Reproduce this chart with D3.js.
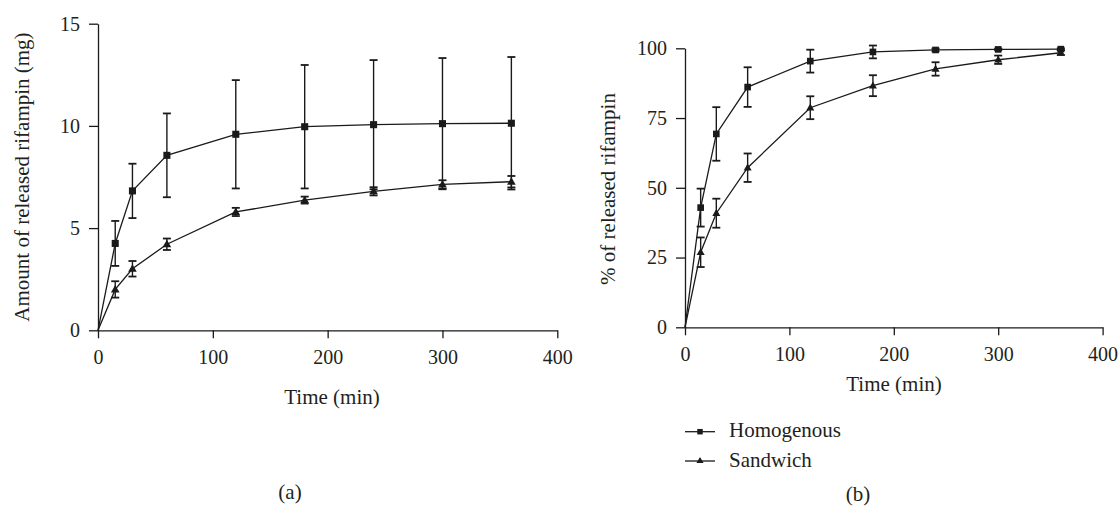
<!DOCTYPE html>
<html>
<head>
<meta charset="utf-8">
<script src="https://cdn.jsdelivr.net/npm/d3@7"></script>
<style>
  html, body { margin: 0; padding: 0; background: #fff; }
  svg { display: block; }
</style>
</head>
<body>
<svg id="chart" width="1119" height="506"></svg>
<script>
// ---- data ----
const times = [15, 30, 60, 120, 180, 240, 300, 360];
const startTime = 0, startValue = 0;

const homAmount   = [4.25, 6.82, 8.56, 9.59, 9.96, 10.06, 10.11, 10.13];
const homAmountSD = [1.10, 1.33, 2.05, 2.65, 3.02, 3.16, 3.21, 3.24];
const sanAmount   = [2.00, 3.01, 4.21, 5.79, 6.37, 6.80, 7.14, 7.27];
const sanAmountSD = [0.40, 0.38, 0.28, 0.20, 0.17, 0.20, 0.20, 0.28];

const homPercent   = [42.9, 69.3, 86.1, 95.4, 98.7, 99.4, 99.6, 99.7];
const homPercentSD = [6.8, 9.6, 7.1, 4.1, 2.3, 0.5, 0.3, 0.3];
const sanPercent   = [26.9, 40.9, 57.2, 78.7, 86.6, 92.6, 95.9, 98.4];
const sanPercentSD = [5.3, 5.2, 5.1, 4.1, 3.75, 2.4, 1.5, 0.8];

const xTicks = [0, 100, 200, 300, 400];
const yTicksA = [0, 5, 10, 15];
const yTicksB = [0, 25, 50, 75, 100];

const seriesNames = ["Homogenous", "Sandwich"];
const xTitle = "Time (min)";
const yTitleA = "Amount of released rifampin (mg)";
const yTitleB = "% of released rifampin";
const panelLabels = ["(a)", "(b)"];

// ---- drawing ----
const FONT = "'Liberation Serif', 'DejaVu Serif', 'Times New Roman', Times, serif";
const svg = d3.select("#chart");
const ink = "#1a1a1a";
const txt = "#231f20";

function label(sel, size) {
  return sel.attr("font-family", FONT).style("font-family", FONT)
    .attr("font-size", size).style("font-size", size + "px").attr("fill", txt);
}

function panel(cfg) {
  const x = d3.scaleLinear().domain([0, 400]).range([cfg.x0, cfg.x1]);
  const y = d3.scaleLinear().domain([0, cfg.yMax]).range([cfg.y0, cfg.y1]);
  const g = svg.append("g");

  const xa = g.append("g").attr("transform", `translate(0,${cfg.y0})`)
    .call(d3.axisBottom(x).tickValues(xTicks).tickSize(8).tickSizeOuter(0).tickPadding(12).tickFormat(d3.format("d")));
  const ya = g.append("g").attr("transform", `translate(${cfg.x0},0)`)
    .call(d3.axisLeft(y).tickValues(cfg.yTicks).tickSize(9).tickSizeOuter(0).tickPadding(9).tickFormat(d3.format("d")));
  [xa, ya].forEach(a => {
    a.attr("font-family", FONT);
    a.selectAll("path, line").attr("stroke", ink).attr("stroke-width", 1.3);
    label(a.selectAll("text"), 20);
  });

  label(g.append("text"), 21).attr("x", cfg.xTitleX).attr("y", cfg.xTitleY)
    .attr("text-anchor", "middle").text(xTitle);
  label(g.append("text"), 21).attr("transform", `translate(${cfg.yTitleX},${cfg.yTitleY}) rotate(-90)`)
    .attr("text-anchor", "middle").text(cfg.yTitle);
  label(g.append("text"), 21).attr("x", cfg.labelX).attr("y", cfg.labelY)
    .attr("text-anchor", "middle").text(cfg.label);

  const line = d3.line().x(d => x(d[0])).y(d => y(d[1]));
  cfg.series.forEach((s, si) => {
    const pts = [[startTime, startValue]].concat(times.map((t, i) => [t, s.vals[i], s.sd[i]]));
    const eg = g.append("g").attr("stroke", ink).attr("stroke-width", 1.4).attr("fill", "none");
    pts.slice(1).forEach(p => {
      const cx = x(p[0]), top = y(p[1] + p[2]), bot = y(p[1] - p[2]);
      eg.append("line").attr("x1", cx).attr("x2", cx).attr("y1", top).attr("y2", bot);
      eg.append("line").attr("x1", cx - 4).attr("x2", cx + 4).attr("y1", top).attr("y2", top).attr("stroke-width", 1.8);
      eg.append("line").attr("x1", cx - 4).attr("x2", cx + 4).attr("y1", bot).attr("y2", bot).attr("stroke-width", 1.8);
    });
    g.append("path").datum(pts).attr("d", line).attr("fill", "none")
      .attr("stroke", ink).attr("stroke-width", 1.3);
    const sym = si === 0 ? d3.symbolSquare : d3.symbolTriangle;
    const size = si === 0 ? cfg.sq : cfg.tri;
    g.selectAll(null).data(pts.slice(1)).join("path")
      .attr("transform", p => `translate(${x(p[0])},${y(p[1]) + (si === 1 ? 0.5 : 0)})`)
      .attr("d", d3.symbol(sym, size)).attr("fill", ink);
  });
}

panel({
  x0: 98, x1: 557.3, y0: 330.3, y1: 23.7, yMax: 15, yTicks: yTicksA,
  yTitle: yTitleA, yTitleX: 28.5, yTitleY: 177,
  xTitleX: 332, xTitleY: 404, label: panelLabels[0], labelX: 290, labelY: 499,
  sq: 50, tri: 32,
  series: [{vals: homAmount, sd: homAmountSD}, {vals: sanAmount, sd: sanAmountSD}]
});

panel({
  x0: 685, x1: 1102.6, y0: 327.3, y1: 48.3, yMax: 100, yTicks: yTicksB,
  yTitle: yTitleB, yTitleX: 615, yTitleY: 189,
  xTitleX: 894, xTitleY: 391, label: panelLabels[1], labelX: 858, labelY: 501,
  sq: 44, tri: 28,
  series: [{vals: homPercent, sd: homPercentSD}, {vals: sanPercent, sd: sanPercentSD}]
});

// legend
const legendY = [431.7, 461];
seriesNames.forEach((name, i) => {
  const lg = svg.append("g");
  lg.append("line").attr("x1", 685).attr("x2", 715).attr("y1", legendY[i]).attr("y2", legendY[i])
    .attr("stroke", ink).attr("stroke-width", 1.3);
  lg.append("path").attr("transform", `translate(700,${legendY[i]})`)
    .attr("d", d3.symbol(i === 0 ? d3.symbolSquare : d3.symbolTriangle, i === 0 ? 30 : 22)).attr("fill", ink);
  label(lg.append("text"), 21).attr("x", 729).attr("y", legendY[i] + 5.5).text(name);
});
</script>
</body>
</html>
